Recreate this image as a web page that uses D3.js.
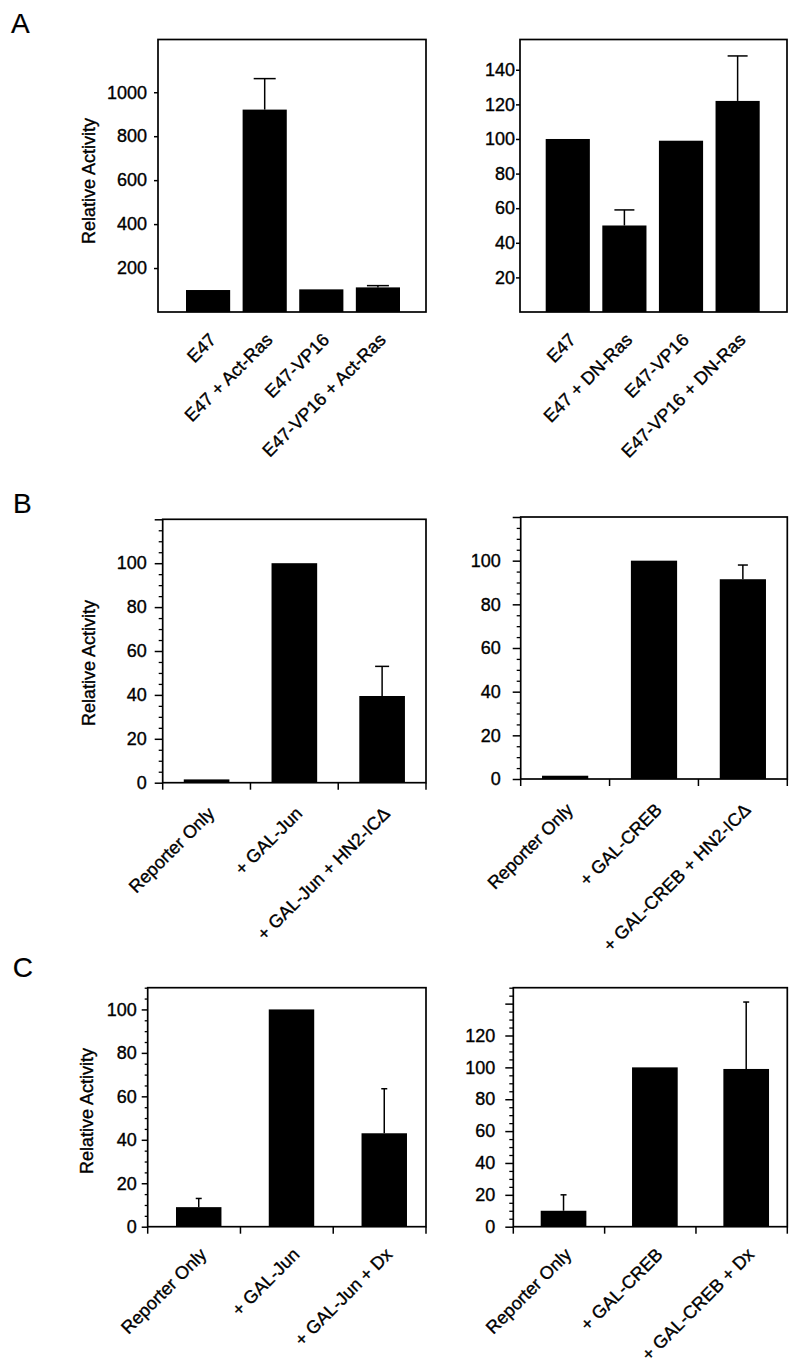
<!DOCTYPE html>
<html>
<head>
<meta charset="utf-8">
<script src="https://cdn.jsdelivr.net/npm/d3@7"></script>
<style>
  html, body { margin: 0; padding: 0; background: #fff; }
  svg text { font-family: "Liberation Sans", Arial, Helvetica, sans-serif; fill: #000; stroke: #000; stroke-width: 0.35px; }
</style>
</head>
<body>
<svg id="chart" width="800" height="1370"></svg>
<script>
// ---------- DATA ----------
const aLeftCategories = ["E47", "E47 + Act-Ras", "E47-VP16", "E47-VP16 + Act-Ras"];
const aLeftValues = [100, 921, 103, 112];
const aLeftErrorTops = [null, 1062, null, 120];
const aLeftTicks = [200, 400, 600, 800, 1000];

const aRightCategories = ["E47", "E47 + DN-Ras", "E47-VP16", "E47-VP16 + DN-Ras"];
const aRightValues = [100, 50, 99, 122];
const aRightErrorTops = [null, 59, null, 148];
const aRightTicks = [20, 40, 60, 80, 100, 120, 140];

const bLeftCategories = ["Reporter Only", "+ GAL-Jun", "+ GAL-Jun + HN2-ICΔ"];
const bLeftValues = [1.5, 100, 39.5];
const bLeftErrorTops = [null, null, 53];

const bRightCategories = ["Reporter Only", "+ GAL-CREB", "+ GAL-CREB + HN2-ICΔ"];
const bRightValues = [1.5, 100, 91.5];
const bRightErrorTops = [null, null, 98];

const bTicks = [0, 20, 40, 60, 80, 100, 120];
const bTickLabels = [0, 20, 40, 60, 80, 100];

const cLeftCategories = ["Reporter Only", "+ GAL-Jun", "+ GAL-Jun + Dx"];
const cLeftValues = [9, 100, 43];
const cLeftErrorTops = [13, null, 63.5];
const cLeftTicks = [0, 20, 40, 60, 80, 100];
const cLeftTickLabels = [0, 20, 40, 60, 80, 100];

const cRightCategories = ["Reporter Only", "+ GAL-CREB", "+ GAL-CREB + Dx"];
const cRightValues = [10, 100, 99];
const cRightErrorTops = [20, null, 141];
const cRightTicks = [0, 20, 40, 60, 80, 100, 120, 140];
const cRightTickLabels = [0, 20, 40, 60, 80, 100, 120];

const panelLetters = ["A", "B", "C"];
const yAxisTitle = "Relative Activity";

// ---------- LAYOUT ----------
const svg = d3.select("#chart");

const panels = [
  { cats: aLeftCategories, vals: aLeftValues, errs: aLeftErrorTops, ticks: aLeftTicks, labels: aLeftTicks,
    minorStep: null, ymax: 1240, left: 158, right: 426, top: 39.5, bottom: 312,
    barRange: [186, 400], padIn: 0.22, wFrac: 1, off: 0.5, capW: 22,
    tickLen: 4, labelGap: 11, xTicks: false, lblDx: 9, lblDy: 29, title: [89, 181] },
  { cats: aRightCategories, vals: aRightValues, errs: aRightErrorTops, ticks: aRightTicks, labels: aRightTicks,
    minorStep: null, ymax: 157.5, left: 520, right: 787, top: 39.5, bottom: 312,
    barRange: [545.7, 759.7], padIn: 0.22, wFrac: 1, off: 0.5, capW: 20,
    tickLen: 4, labelGap: 5, xTicks: false, lblDx: 9, lblDy: 29, title: null },
  { cats: bLeftCategories, vals: bLeftValues, errs: bLeftErrorTops, ticks: bTicks, labels: bTickLabels,
    minorStep: 5, ymax: 120, left: 162.7, right: 426, top: 519.3, bottom: 782.7,
    barRange: null, padIn: 0, wFrac: 0.52, off: 0.5, capW: 14,
    tickLen: 8, labelGap: 16, xTicks: true, lblDx: 9, lblDy: 32, title: [89, 663] },
  { cats: bRightCategories, vals: bRightValues, errs: bRightErrorTops, ticks: bTicks, labels: bTickLabels,
    minorStep: 5, ymax: 120, left: 520.7, right: 787.3, top: 517, bottom: 779,
    barRange: null, padIn: 0, wFrac: 0.52, off: 0.5, capW: 10,
    tickLen: 8, labelGap: 20, xTicks: true, lblDx: 9, lblDy: 32, title: null },
  { cats: cLeftCategories, vals: cLeftValues, errs: cLeftErrorTops, ticks: cLeftTicks, labels: cLeftTickLabels,
    minorStep: 5, ymax: 110, left: 147.7, right: 426, top: 987.7, bottom: 1226.7,
    barRange: null, padIn: 0, wFrac: 0.49, off: 0.55, capW: 6,
    tickLen: 6, labelGap: 11, xTicks: true, lblDx: 9, lblDy: 29, title: [87, 1111] },
  { cats: cRightCategories, vals: cRightValues, errs: cRightErrorTops, ticks: cRightTicks, labels: cRightTickLabels,
    minorStep: 5, ymax: 150, left: 513.3, right: 787.3, top: 987.7, bottom: 1226.7,
    barRange: null, padIn: 0, wFrac: 0.5, off: 0.55, capW: 6,
    tickLen: 8, labelGap: 18, xTicks: true, lblDx: 9, lblDy: 29, title: null }
];

const FONT = 18;

panels.forEach(p => {
  const g = svg.append("g");
  const y = d3.scaleLinear().domain([0, p.ymax]).range([p.bottom, p.top]);
  const x = d3.scaleBand().domain(p.cats)
    .range(p.barRange || [p.left, p.right])
    .paddingInner(p.padIn).paddingOuter(0);
  const bw = x.bandwidth() * p.wFrac;
  const cx = c => x(c) + x.bandwidth() * p.off;

  // minor ticks
  if (p.minorStep) {
    const minor = d3.range(0, p.ymax + 0.001, p.minorStep).filter(v => !p.ticks.includes(v));
    const mg = g.append("g").attr("transform", `translate(${p.left},0)`)
      .call(d3.axisLeft(y).tickValues(minor).tickSize(p.tickLen / 2).tickFormat(""));
    mg.select(".domain").remove();
    mg.selectAll("line").attr("stroke-width", 1.3);
  }
  // major ticks with labels
  const ag = g.append("g").attr("transform", `translate(${p.left},0)`)
    .call(d3.axisLeft(y).tickValues(p.ticks).tickSize(p.tickLen)
      .tickPadding(p.labelGap - p.tickLen)
      .tickFormat(v => p.labels.includes(v) ? d3.format("d")(v) : ""));
  ag.select(".domain").remove();
  ag.selectAll("line").attr("stroke-width", 1.5);
  ag.attr("font-size", null).attr("font-family", null);
  ag.selectAll("text").attr("font-size", FONT).attr("fill", "#000");

  // bars
  g.selectAll("rect.bar").data(p.cats).join("rect")
    .attr("class", "bar")
    .attr("x", (c) => cx(c) - bw / 2)
    .attr("width", bw)
    .attr("y", (c, i) => y(p.vals[i]))
    .attr("height", (c, i) => y(0) - y(p.vals[i]))
    .attr("fill", "#000");

  // error bars
  p.cats.forEach((c, i) => {
    const e = p.errs[i];
    if (e == null) return;
    g.append("line").attr("x1", cx(c)).attr("x2", cx(c))
      .attr("y1", y(p.vals[i])).attr("y2", y(e))
      .attr("stroke", "#000").attr("stroke-width", 1.5);
    g.append("line").attr("x1", cx(c) - p.capW / 2).attr("x2", cx(c) + p.capW / 2)
      .attr("y1", y(e)).attr("y2", y(e))
      .attr("stroke", "#000").attr("stroke-width", 1.5);
  });

  // frame
  g.append("rect").attr("x", p.left).attr("y", p.top)
    .attr("width", p.right - p.left).attr("height", p.bottom - p.top)
    .attr("fill", "none").attr("stroke", "#000").attr("stroke-width", 1.7);

  // x ticks at category boundaries
  if (p.xTicks) {
    const bounds = p.cats.map(c => x(c)).concat([x.range()[1]]);
    g.selectAll("line.xt").data(bounds).join("line")
      .attr("class", "xt")
      .attr("x1", d => d).attr("x2", d => d)
      .attr("y1", p.bottom).attr("y2", p.bottom + 7)
      .attr("stroke", "#000").attr("stroke-width", 1.5);
  }

  // category labels
  g.selectAll("text.cat").data(p.cats).join("text")
    .attr("class", "cat")
    .attr("text-anchor", "end")
    .attr("font-size", FONT)
    .attr("transform", c => `translate(${cx(c) + p.lblDx},${p.bottom + p.lblDy}) rotate(-45)`)
    .text(c => c);

  // y title
  if (p.title) {
    g.append("text")
      .attr("text-anchor", "middle")
      .attr("font-size", FONT)
      .attr("transform", `translate(${p.title[0] + 6},${p.title[1]}) rotate(-90)`)
      .text(yAxisTitle);
  }
});

// panel letters
const letterPos = [[11, 33], [13, 512.7], [12.7, 977]];
svg.selectAll("text.letter").data(panelLetters).join("text")
  .attr("class", "letter")
  .attr("x", (d, i) => letterPos[i][0])
  .attr("y", (d, i) => letterPos[i][1])
  .attr("font-size", 28)
  .style("stroke-width", "0.2px")
  .text(d => d);
</script>
</body>
</html>
